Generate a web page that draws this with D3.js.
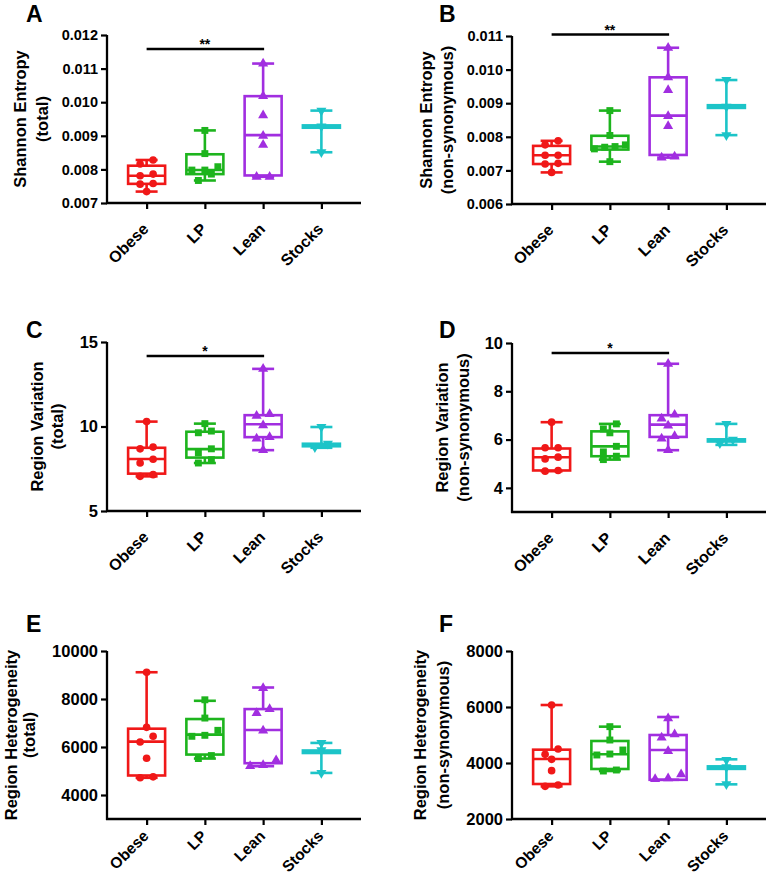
<!DOCTYPE html>
<html><head><meta charset="utf-8">
<script src="https://cdn.jsdelivr.net/npm/d3@7"></script>
<style>
html,body{margin:0;padding:0;background:#fff;}
svg{display:block;font-family:"Liberation Sans",Arial,sans-serif;font-weight:bold;}
</style></head>
<body>
<svg id="chart" width="767" height="875"></svg>
<script>
const groups = ["Obese", "LP", "Lean", "Stocks"];
const groupColors = ["#f01818", "#1db41d", "#a12ee0", "#1cc4c8"];

// A: Shannon entropy (total)
const entropyTotalPts = [
  [0.00828, 0.00816, 0.00786, 0.00781, 0.00758, 0.00756, 0.00734],
  [0.00916, 0.00847, 0.00808, 0.00798, 0.00798, 0.00786, 0.00767],
  [0.01115, 0.01018, 0.00961, 0.00900, 0.00873, 0.00778, 0.00778],
  [0.00975, 0.00928, 0.00851]
];
const entropyTotalBox = [ // min, q1, median, q3, max
  [0.00734, 0.00757, 0.00781, 0.00811, 0.00828],
  [0.00767, 0.00786, 0.00798, 0.00845, 0.00916],
  [0.00778, 0.00782, 0.00902, 0.01018, 0.01115],
  [0.00851, 0.00924, 0.00928, 0.00931, 0.00975]
];
const entropyTotalTicks = [0.007, 0.008, 0.009, 0.010, 0.011, 0.012];

// B: Shannon entropy (non-synonymous)
const entropyNonsynPts = [
  [0.00788, 0.00776, 0.00745, 0.00745, 0.00721, 0.00719, 0.00694],
  [0.00878, 0.00804, 0.00776, 0.00771, 0.00769, 0.00764, 0.00726],
  [0.01065, 0.00977, 0.00939, 0.00862, 0.00832, 0.00741, 0.00738],
  [0.00969, 0.00890, 0.00805]
];
const entropyNonsynBox = [
  [0.00694, 0.00719, 0.00745, 0.00773, 0.00788],
  [0.00726, 0.00762, 0.00771, 0.00803, 0.00878],
  [0.00738, 0.00746, 0.00863, 0.00977, 0.01065],
  [0.00805, 0.00886, 0.00890, 0.00894, 0.00969]
];
const entropyNonsynTicks = [0.006, 0.007, 0.008, 0.009, 0.010, 0.011];

// C: Region variation (total)
const variationTotalPts = [
  [10.29, 8.78, 8.68, 8.06, 7.84, 7.15, 7.05],
  [10.17, 9.73, 9.63, 8.68, 8.44, 8.04, 7.84],
  [13.41, 10.73, 10.63, 10.07, 9.37, 9.29, 8.60],
  [9.97, 8.98, 8.78]
];
const variationTotalBox = [
  [7.05, 7.21, 8.08, 8.74, 10.29],
  [7.84, 8.16, 8.66, 9.69, 10.17],
  [8.60, 9.37, 10.13, 10.67, 13.41],
  [8.74, 8.83, 8.90, 8.98, 9.97]
];
const variationTotalTicks = [5, 10, 15];

// D: Region variation (non-synonymous)
const variationNonsynPts = [
  [6.72, 5.66, 5.66, 5.27, 5.20, 4.72, 4.69],
  [6.65, 6.44, 6.28, 5.72, 5.49, 5.31, 5.17],
  [9.14, 7.03, 6.87, 6.58, 6.14, 6.04, 5.56],
  [6.65, 6.00, 5.85]
];
const variationNonsynBox = [
  [4.69, 4.72, 5.27, 5.63, 6.72],
  [5.17, 5.31, 5.72, 6.34, 6.65],
  [5.56, 6.11, 6.62, 7.01, 9.14],
  [5.78, 5.92, 5.96, 6.01, 6.65]
];
const variationNonsynTicks = [4, 6, 8, 10];

// E: Region heterogeneity (total)
const heterogeneityTotalPts = [
  [9115, 6819, 6446, 6210, 5532, 4758, 4717],
  [7967, 7206, 6694, 6487, 6446, 5643, 5519],
  [8451, 7580, 7413, 6680, 5450, 5242, 5201],
  [6170, 5870, 4920]
];
const heterogeneityTotalBox = [
  [4717, 4813, 6224, 6763, 9115],
  [5519, 5685, 6515, 7165, 7925],
  [5201, 5325, 6708, 7580, 8479],
  [4920, 5750, 5800, 5855, 6170]
];
const heterogeneityTotalTicks = [4000, 6000, 8000, 10000];

// F: Region heterogeneity (non-synonymous)
const heterogeneityNonsynPts = [
  [6071, 4500, 4310, 4131, 3726, 3214, 3167],
  [5298, 4821, 4464, 4321, 4286, 3750, 3714],
  [5595, 5024, 4905, 4429, 3595, 3452, 3429],
  [4110, 3850, 3240]
];
const heterogeneityNonsynBox = [
  [3167, 3250, 4143, 4476, 6071],
  [3714, 3786, 4310, 4786, 5298],
  [3400, 3400, 4464, 5000, 5643],
  [3238, 3790, 3833, 3880, 4131]
];
const heterogeneityNonsynTicks = [2000, 4000, 6000, 8000];

const panels = [
  {letter: "A", pts: entropyTotalPts, box: entropyTotalBox, ticks: entropyTotalTicks, domain: [0.007, 0.012], fmt: ".3f",
   title: ["Shannon Entropy", "(total)"], ox: 107, top: 35, bottom: 203, titleX: [20, 42], letterXY: [26, 22], sig: "**", sigDy: 14, tickFont: 14.5, labDy: 27, labFont: 16},
  {letter: "B", pts: entropyNonsynPts, box: entropyNonsynBox, ticks: entropyNonsynTicks, domain: [0.006, 0.011], fmt: ".3f",
   title: ["Shannon Entropy", "(non-synonymous)"], ox: 512, top: 36, bottom: 204, titleX: [426, 447], letterXY: [439, 22], sig: "**", sigDy: -1.5, tickFont: 14.5, labDy: 27, labFont: 16},
  {letter: "C", pts: variationTotalPts, box: variationTotalBox, ticks: variationTotalTicks, domain: [5, 15], fmt: "d",
   title: ["Region Variation", "(total)"], ox: 107, top: 342, bottom: 511, titleX: [37, 57], letterXY: [26, 338], sig: "*", sigDy: 14, tickFont: 16.5, labDy: 27, labFont: 16},
  {letter: "D", pts: variationNonsynPts, box: variationNonsynBox, ticks: variationNonsynTicks, domain: [3, 10], fmt: "d",
   title: ["Region Variation", "(non-synonymous)"], ox: 512, top: 343, bottom: 512, titleX: [442, 463], letterXY: [439, 338], sig: "*", sigDy: 10, tickFont: 16.5, labDy: 27, labFont: 16},
  {letter: "E", pts: heterogeneityTotalPts, box: heterogeneityTotalBox, ticks: heterogeneityTotalTicks, domain: [3000, 10000], fmt: "d",
   title: ["Region Heterogeneity", "(total)"], ox: 107, top: 651, bottom: 819, titleX: [11, 29], letterXY: [26, 632], sig: null, tickFont: 16.5, labDy: 18, labFont: 15.5},
  {letter: "F", pts: heterogeneityNonsynPts, box: heterogeneityNonsynBox, ticks: heterogeneityNonsynTicks, domain: [2000, 8000], fmt: "d",
   title: ["Region Heterogeneity", "(non-synonymous)"], ox: 512, top: 651, bottom: 819, titleX: [420, 443], letterXY: [439, 632], sig: null, tickFont: 16.5, labDy: 18, labFont: 15.5}
];

const svg = d3.select("#chart");
const symbols = [d3.symbolCircle, d3.symbolSquare, d3.symbolTriangle, d3.symbolTriangle];
const symSizes = [46, 48, 44, 44];
const SW = 2.6;

function swarm(vals, y) {
  const items = vals.map(v => ({v, py: y(v)})).sort((a, b) => a.py - b.py);
  const bins = [];
  items.forEach(it => {
    const last = bins[bins.length - 1];
    if (last && it.py - last[0].py <= 7) last.push(it); else bins.push([it]);
  });
  const out = [];
  bins.forEach(bin => {
    bin.sort((a, b) => a.v - b.v);
    const k = bin.length;
    const sp = k > 1 ? Math.min(13, 31 / (k - 1)) : 0;
    bin.forEach((it, i) => out.push({v: it.v, py: it.py, dx: (i - (k - 1) / 2) * sp}));
  });
  return out;
}

panels.forEach(p => {
  const g = svg.append("g");
  const x = d3.scalePoint().domain(groups).range([p.ox, p.ox + 254]).padding(0.68);
  const y = d3.scaleLinear().domain(p.domain).range([p.bottom, p.top]);

  // y axis
  const ya = g.append("g").attr("transform", `translate(${p.ox},0)`)
    .call(d3.axisLeft(y).tickValues(p.ticks).tickFormat(d3.format(p.fmt)).tickSizeOuter(0).tickSize(6).tickPadding(3));
  ya.select(".domain").attr("stroke-width", 2.3).attr("d", `M0,${p.top}V${p.bottom + 1}`);
  ya.selectAll(".tick line").attr("stroke-width", 2.2);
  ya.selectAll(".tick text").attr("font-size", p.tickFont).attr("font-weight", "bold")
    .attr("font-family", "'Liberation Sans',Arial,sans-serif").attr("fill", "#000");

  // x axis
  const xa = g.append("g").attr("transform", `translate(0,${p.bottom})`)
    .call(d3.axisBottom(x).tickSizeOuter(0).tickSize(6));
  xa.select(".domain").attr("stroke-width", 2.3).attr("d", `M${p.ox - 1},0H${p.ox + 254}`);
  xa.selectAll(".tick line").attr("stroke-width", 2.2);
  xa.selectAll(".tick text").remove();
  groups.forEach(gr => {
    g.append("text").attr("transform", `translate(${x(gr) + 3},${p.bottom + p.labDy}) rotate(-45)`)
      .attr("text-anchor", "end").attr("font-size", p.labFont).attr("fill", "#000").text(gr);
  });

  // y title
  p.title.forEach((t, i) => {
    g.append("text").attr("transform", `translate(${p.titleX[i]},${(p.top + p.bottom) / 2}) rotate(-90)`)
      .attr("text-anchor", "middle").attr("dominant-baseline", "central")
      .attr("font-size", 16.5).attr("fill", "#000").text(t);
  });

  // panel letter
  g.append("text").attr("x", p.letterXY[0]).attr("y", p.letterXY[1])
    .attr("font-size", 23).attr("fill", "#000").text(p.letter);

  // significance bar
  if (p.sig) {
    const by = p.top + p.sigDy;
    g.append("line").attr("x1", x("Obese")).attr("x2", x("Lean") + 1).attr("y1", by).attr("y2", by)
      .attr("stroke", "#000").attr("stroke-width", 2.5);
    g.append("text").attr("x", (x("Obese") + x("Lean")) / 2).attr("y", by)
      .attr("text-anchor", "middle").attr("font-size", 14).attr("fill", "#000").text(p.sig);
  }

  // boxes
  groups.forEach((gr, gi) => {
    const [mn, q1, md, q3, mx] = p.box[gi];
    const cx = x(gr), col = groupColors[gi];
    const bg = g.append("g").attr("stroke", col).attr("stroke-width", SW).attr("fill", "none");
    bg.append("line").attr("x1", cx).attr("x2", cx).attr("y1", y(mx)).attr("y2", y(q3));
    bg.append("line").attr("x1", cx).attr("x2", cx).attr("y1", y(q1)).attr("y2", y(mn));
    bg.append("line").attr("x1", cx - 11).attr("x2", cx + 11).attr("y1", y(mx)).attr("y2", y(mx));
    bg.append("line").attr("x1", cx - 11).attr("x2", cx + 11).attr("y1", y(mn)).attr("y2", y(mn));
    bg.append("rect").attr("x", cx - 18.5).attr("width", 37).attr("y", y(q3)).attr("height", Math.max(0.5, y(q1) - y(q3)));
    bg.append("line").attr("x1", cx - 18.5).attr("x2", cx + 18.5).attr("y1", y(md)).attr("y2", y(md));

    // points
    const sym = d3.symbol().type(symbols[gi]).size(symSizes[gi]);
    swarm(p.pts[gi], y).forEach(pt => {
      g.append("path").attr("d", sym())
        .attr("transform", `translate(${cx + pt.dx},${pt.py})${gi === 3 ? " rotate(180)" : ""}`)
        .attr("fill", col);
    });
  });
});
</script>
</body></html>
